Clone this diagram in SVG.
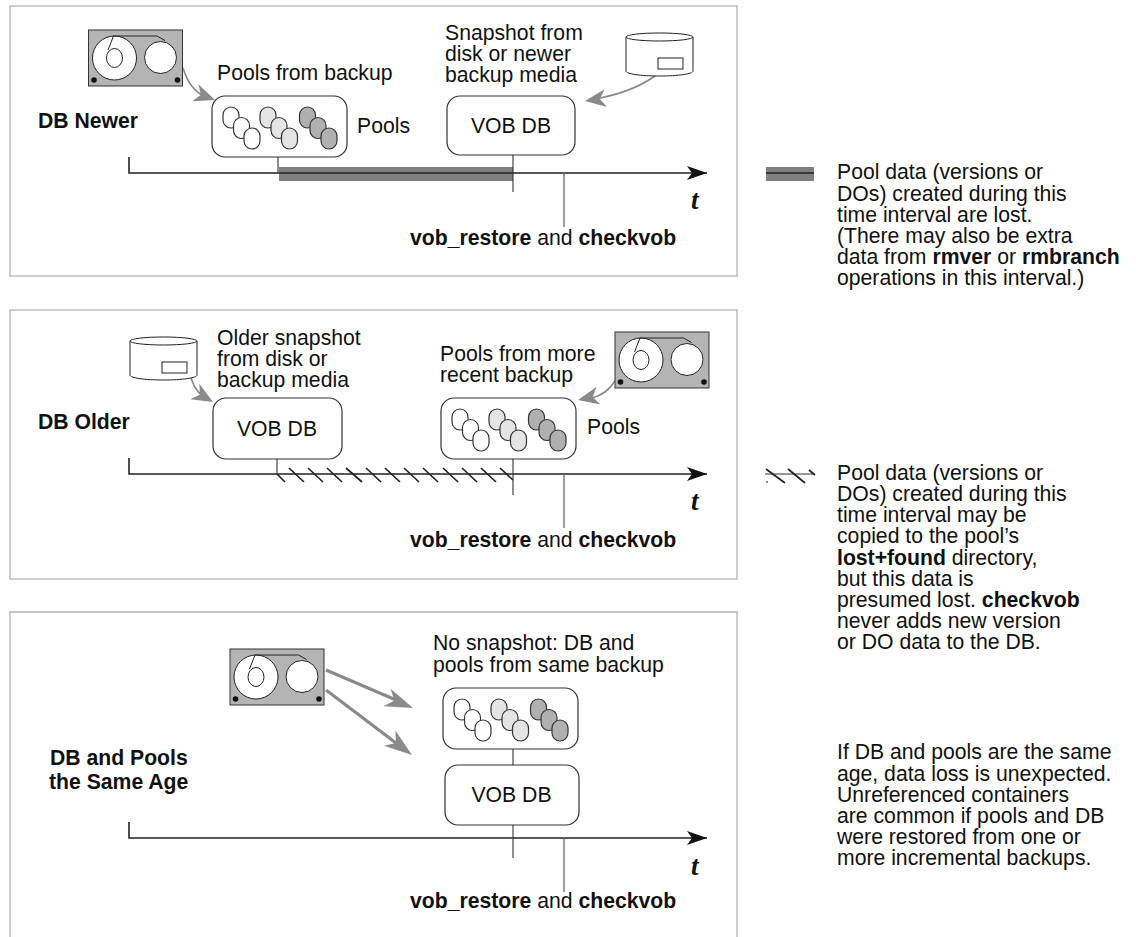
<svg xmlns="http://www.w3.org/2000/svg" width="1136" height="937" viewBox="0 0 1136 937">
<style>
text{font-family:"Liberation Sans",Arial,sans-serif;font-size:21.2px;fill:#111}
.b{font-weight:bold}
.t{font-family:"Liberation Serif",serif;font-style:italic;font-weight:bold;font-size:27px}
.frame{fill:none;stroke:#b4b4b4;stroke-width:1.3}
.box{fill:#fff;stroke:#333;stroke-width:1.2}
.ax{fill:none;stroke:#222;stroke-width:1.6}
.tick{fill:none;stroke:#333;stroke-width:1.1}
.tick2{fill:none;stroke:#666;stroke-width:1.3}
.ga{fill:none;stroke:#8a8a8a;stroke-width:1.6}
.gs{fill:none;stroke:#8a8a8a;stroke-width:3.2}
.h{fill:none;stroke:#222;stroke-width:1.7}
.o{stroke:#333;stroke-width:1.2}
</style>
<defs>
<marker id="tip" markerUnits="userSpaceOnUse" markerWidth="22" markerHeight="14" refX="20" refY="7" orient="auto"><path d="M0,0L20,7L0,14L5,7Z" fill="#111"/></marker>
<g id="tape">
<rect x="0" y="0" width="94" height="56" fill="#b4b4b4" stroke="#333" stroke-width="1"/>
<circle cx="26" cy="28" r="22" fill="#fff" stroke="#222" stroke-width="1"/>
<circle cx="72" cy="27.500" r="16" fill="#fff" stroke="#222" stroke-width="1"/>
<ellipse cx="26" cy="28" rx="8" ry="9.500" fill="none" stroke="#222" stroke-width="1"/>
<path d="M19.500,20L25,6H68.500L76.500,10.500" fill="none" stroke="#222" stroke-width="1"/>
<circle cx="5.500" cy="50" r="2.800" fill="#111"/>
<circle cx="89" cy="50" r="2.800" fill="#111"/>
</g>
<g id="disk">
<path d="M0,6V40C0,43 15,45 33.500,45S67,43 67,40V6" fill="#fff" stroke="#222" stroke-width="1"/>
<ellipse cx="33.500" cy="6" rx="33.500" ry="4" fill="#fff" stroke="#222" stroke-width="1"/>
<rect x="32" y="27" width="25" height="11" fill="#fff" stroke="#222" stroke-width="1"/>
</g>
<g id="pool">
<rect x="0" y="0" width="135" height="61" rx="13" class="box"/>
<g class="o">
<rect x="11" y="11" width="16" height="21" rx="8" fill="#fff"/><rect x="21.500" y="21.500" width="16" height="21" rx="8" fill="#fff"/><rect x="32" y="32" width="16" height="21" rx="8" fill="#fff"/>
<rect x="48" y="11" width="16" height="21" rx="8" fill="#e4e4e4"/><rect x="59" y="21.500" width="16" height="21" rx="8" fill="#e4e4e4"/><rect x="69.500" y="32" width="16" height="21" rx="8" fill="#e4e4e4"/>
<rect x="87.500" y="11" width="16" height="21" rx="8" fill="#b0b0b0"/><rect x="98" y="21.500" width="16" height="21" rx="8" fill="#b0b0b0"/><rect x="109" y="32" width="16" height="21" rx="8" fill="#b0b0b0"/>
</g>
</g>
<path id="head" d="M0,0L-21,-9L-15,0L-21,9Z" fill="#8a8a8a"/>
<path id="head2" d="M0,0L-28,-9.500L-20,0L-28,9.500Z" fill="#8a8a8a"/>
</defs>

<g id="frames">
<rect class="frame" x="10" y="6" width="727" height="270"/>
<rect class="frame" x="10" y="310" width="727" height="269"/>
<path class="frame" d="M10,937V612H737V937"/>
</g>

<g id="connectors">
<rect x="279" y="167" width="234" height="14" fill="#808080"/>
<path class="ax" d="M129,157V173H707" marker-end="url(#tip)"/>
<path class="tick" d="M278,157V173M513,155V192"/>
<path class="tick2" d="M564,173V227"/>
<path class="ax" d="M129,458V474H707" marker-end="url(#tip)"/>
<path class="tick" d="M277,459V474M513,459V495"/>
<path class="tick2" d="M564,474V528"/>
<path class="h" d="M277,474L285,482M289,468L304,482M308,468L323,482M327,468L342,482M346,468L362,482M366,468L381,482M385,468L400,482M404,468L419,482M423,468L438,482M443,468L458,482M462,468L477,482M481,468L496,482M500,468L513,480"/>
<path class="ax" d="M129,822V838H707" marker-end="url(#tip)"/>
<path class="tick" d="M513,825V858"/>
<path class="tick2" d="M564,837V892"/>
<path class="tick" d="M513,749V765"/>

<path class="ga" d="M183,68C188,84 195,92 204,96"/>
<use href="#head" transform="translate(215,100) rotate(20)"/>
<path class="ga" d="M659,73C640,88 620,94 600,98"/>
<use href="#head" transform="translate(585,101) rotate(172)"/>
<path class="ga" d="M190,373C192,384 197,392 203,396"/>
<use href="#head" transform="translate(213,402) rotate(30)"/>
<path class="ga" d="M615,381C608,392 600,396 592,398"/>
<use href="#head" transform="translate(578,400) rotate(168)"/>
<path class="gs" d="M326,670L396,700"/>
<use href="#head2" transform="translate(413,708) rotate(22)"/>
<path class="gs" d="M326,690L396,743"/>
<use href="#head2" transform="translate(412,755) rotate(37)"/>
</g>

<g id="panel-newer">
<use href="#tape" x="88.500" y="30"/>
<use href="#pool" x="212" y="96"/>
<use href="#disk" x="626" y="31"/>
<rect class="box" x="447" y="96" width="128" height="59" rx="13"/>
<text x="511" y="133" text-anchor="middle">VOB DB</text>
<text x="217" y="80">Pools from backup</text>
<text x="357" y="133">Pools</text>
<text x="445" y="40">Snapshot from</text>
<text x="445" y="61">disk or newer</text>
<text x="445" y="82">backup media</text>
<text x="38" y="128" class="b">DB Newer</text>
<text x="691" y="209" class="t">t</text>
<text x="410" y="245"><tspan class="b">vob_restore</tspan> and <tspan class="b">checkvob</tspan></text>
</g>

<g id="panel-older">
<use href="#disk" x="130" y="335"/>
<use href="#tape" x="615" y="332"/>
<use href="#pool" x="441" y="398"/>
<rect class="box" x="213" y="398" width="129" height="61" rx="13"/>
<text x="277" y="436" text-anchor="middle">VOB DB</text>
<text x="217" y="345">Older snapshot</text>
<text x="217" y="366">from disk or</text>
<text x="217" y="387">backup media</text>
<text x="440" y="361">Pools from more</text>
<text x="440" y="382">recent backup</text>
<text x="587" y="434">Pools</text>
<text x="38" y="429" class="b">DB Older</text>
<text x="691" y="510" class="t">t</text>
<text x="410" y="547"><tspan class="b">vob_restore</tspan> and <tspan class="b">checkvob</tspan></text>
</g>

<g id="panel-same">
<use href="#tape" x="230" y="649"/>
<use href="#pool" x="443" y="688"/>
<rect class="box" x="445" y="765" width="134" height="60" rx="13"/>
<text x="511.500" y="802" text-anchor="middle">VOB DB</text>
<text x="433" y="650">No snapshot: DB and</text>
<text x="433" y="672">pools from same backup</text>
<text x="50" y="765" class="b">DB and Pools</text>
<text x="49" y="789" class="b">the Same Age</text>
<text x="691" y="875" class="t">t</text>
<text x="410" y="908"><tspan class="b">vob_restore</tspan> and <tspan class="b">checkvob</tspan></text>
</g>

<g id="legend">
<rect x="766" y="167" width="48" height="14" fill="#808080"/>
<path d="M766,173H814" class="ax"/>
<path d="M765,474H814" class="tick" stroke-width="1.500"/>
<path class="h" d="M766,469L785,483M788,469L805,483M809,470L815,475"/>
<path class="tick" d="M767,481V483"/>
<text x="837" y="179">Pool data (versions or</text>
<text x="837" y="201">DOs) created during this</text>
<text x="837" y="222">time interval are lost.</text>
<text x="837" y="243">(There may also be extra</text>
<text x="837" y="264">data from <tspan class="b">rmver</tspan> or <tspan class="b">rmbranch</tspan></text>
<text x="837" y="285">operations in this interval.)</text>
<text x="837" y="480">Pool data (versions or</text>
<text x="837" y="501">DOs) created during this</text>
<text x="837" y="522">time interval may be</text>
<text x="837" y="543">copied to the pool’s</text>
<text x="837" y="565"><tspan class="b">lost+found</tspan> directory,</text>
<text x="837" y="586">but this data is</text>
<text x="837" y="607">presumed lost. <tspan class="b">checkvob</tspan></text>
<text x="837" y="628">never adds new version</text>
<text x="837" y="649">or DO data to the DB.</text>
<text x="837" y="759">If DB and pools are the same</text>
<text x="837" y="781">age, data loss is unexpected.</text>
<text x="837" y="802">Unreferenced containers</text>
<text x="837" y="823">are common if pools and DB</text>
<text x="837" y="844">were restored from one or</text>
<text x="837" y="865">more incremental backups.</text>
</g>
</svg>
